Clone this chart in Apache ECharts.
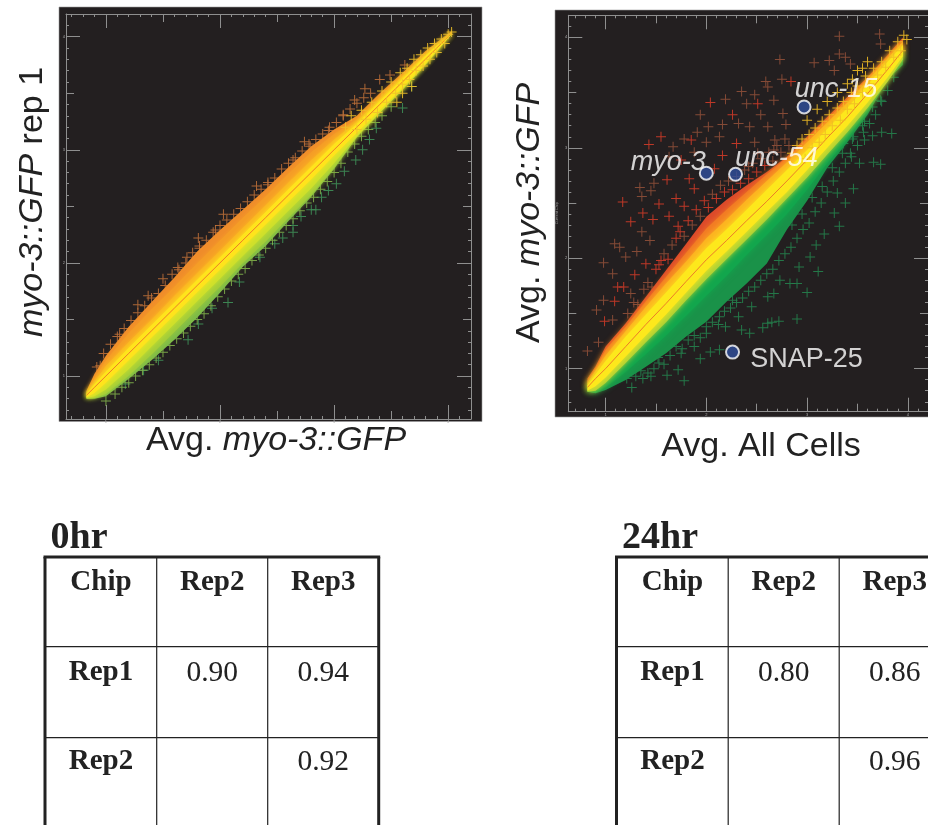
<!DOCTYPE html>
<html><head><meta charset="utf-8">
<style>html,body{margin:0;padding:0;background:#fff}#c{width:928px;height:825px}</style>
<script src="https://cdn.jsdelivr.net/npm/echarts@6/dist/echarts.min.js"></script>
</head><body><div id="c"></div>
<script>
// ---------- tick values ----------
const minorTicks=[0.7,0.8,0.9,1.0,1.1,1.2,1.3,1.4,1.5,1.6,1.7,1.8,1.9,2.0,2.1,2.2,2.3,2.4,2.5,2.6,2.7,2.8,2.9,3.0,3.1,3.2,3.3,3.4,3.5,3.6,3.7,3.8,3.9,4.0,4.1];
const halfTicks=[1.5,2.5,3.5];
const majorTicks=[1,2,3,4];

// ---------- left panel: band envelopes (y value at each bx1) ----------
const bx1=[0.83,0.9,1.0,1.2,1.4,1.6,1.8,2.0,2.2,2.4,2.6,2.8,3.0,3.2,3.4,3.6,3.8,4.03];
const c1 =[0.83,0.9,1.0,1.2,1.4,1.6,1.8,2.0,2.2,2.4,2.6,2.8,3.0,3.2,3.4,3.6,3.8,4.03];
const u1_0=[0.87,1.02,1.18,1.435,1.655,1.87,2.10,2.29,2.47,2.65,2.845,3.03,3.18,3.30,3.50,3.68,3.87,4.05];
const u1_1=[0.86,0.98,1.14,1.38,1.59,1.79,2.0,2.2,2.4,2.59,2.79,2.98,3.14,3.27,3.47,3.66,3.85,4.04];
const u1_2=[0.85,0.95,1.09,1.3,1.5,1.71,1.91,2.11,2.31,2.51,2.71,2.91,3.09,3.25,3.45,3.65,3.84,4.04];
const u1_3=[0.84,0.93,1.04,1.25,1.45,1.65,1.85,2.05,2.25,2.45,2.65,2.85,3.05,3.23,3.43,3.63,3.83,4.035];
const l1_3=[0.81,0.85,0.94,1.14,1.34,1.54,1.74,1.94,2.14,2.34,2.54,2.74,2.95,3.15,3.35,3.55,3.76,4.025];
const l1_2=[0.805,0.82,0.88,1.06,1.26,1.46,1.66,1.86,2.06,2.26,2.46,2.66,2.88,3.12,3.33,3.54,3.755,4.02];
const l1_1=[0.80,0.805,0.84,1.0,1.19,1.39,1.59,1.79,2.0,2.19,2.40,2.6,2.84,3.115,3.33,3.535,3.752,4.02];
const l1_0=[0.80,0.80,0.82,0.975,1.14,1.32,1.515,1.735,1.965,2.15,2.37,2.585,2.83,3.11,3.325,3.53,3.75,4.02];

// ---------- left panel: crosses ----------
const p1Orange=[[3.62,3.75],[3.49,3.66],[3.40,3.62],[3.27,3.54],[3.18,3.44],[3.08,3.31],[2.95,3.17],[2.74,3.07],[2.79,3.03],[2.64,2.91],[2.42,2.69],[2.32,2.68],[2.03,2.43],[1.96,2.29],[1.81,2.22],[1.82,2.13],[1.71,2.05],[1.63,1.96],[1.50,1.86],[1.37,1.71],[1.28,1.63],[1.12,1.37],[0.95,1.09],
[0.92,1.08],[0.98,1.2],[1.04,1.28],[1.1,1.35],[1.16,1.42],[1.22,1.49],[1.28,1.56],[1.34,1.62],[1.4,1.69],[1.46,1.73],[1.52,1.8],[1.58,1.9],[1.64,1.94],[1.7,2.0],[1.76,2.09],[1.82,2.15],[1.88,2.2],[1.94,2.27],[2.0,2.33],[2.06,2.38],[2.12,2.43],[2.18,2.48],[2.24,2.54],[2.3,2.6],[2.36,2.65],[2.42,2.71],[2.48,2.75],[2.54,2.83],[2.6,2.88],[2.66,2.93],[2.72,2.99],[2.78,3.05],[2.84,3.09],[2.9,3.14],[2.96,3.2],[3.02,3.24],[3.08,3.3],[3.14,3.36],[3.2,3.41],[3.26,3.46],[3.32,3.5]];
const p1Green=[[3.60,3.37],[3.68,3.56],[3.37,3.19],[3.31,3.09],[3.25,3.0],[3.19,2.91],[3.09,2.81],[3.02,2.70],[2.95,2.64],[2.89,2.58],[2.80,2.47],[2.84,2.47],[2.71,2.41],[2.64,2.33],[2.64,2.27],[2.55,2.22],[2.48,2.17],[2.35,2.05],[2.17,1.83],[2.07,1.65],[1.93,1.60],[1.81,1.46],[1.72,1.32],[1.46,1.14],[1.33,1.05],[1.17,0.93]];
const p1LightGreen=[[1.0,0.78],[1.08,0.84],[1.14,0.9],[1.2,0.94],[1.26,1.0],[1.32,1.05],[1.38,1.1],[1.44,1.16],[1.5,1.21],[1.56,1.27],[1.62,1.33],[1.68,1.38],[1.74,1.44],[1.8,1.5],[1.86,1.55],[1.92,1.62],[1.98,1.7],[2.04,1.77],[2.1,1.84],[2.16,1.9],[2.22,1.95],[2.28,2.02],[2.34,2.07],[2.4,2.13],[2.46,2.2],[2.52,2.27],[2.58,2.33],[2.64,2.39],[2.7,2.46],[2.76,2.53],[2.82,2.58],[2.88,2.65],[2.94,2.72],[3.0,2.8],[3.06,2.88],[3.12,2.98],[3.18,3.05],[3.24,3.12],[3.3,3.18],[3.36,3.24],[3.42,3.3],[3.5,3.38]];
const p1Yellow=[[3.1,3.2],[3.15,3.3],[3.2,3.18],[3.24,3.35],[3.28,3.27],[3.33,3.42],[3.38,3.33],[3.42,3.52],[3.46,3.42],[3.5,3.6],[3.54,3.5],[3.58,3.68],[3.6,3.58],[3.64,3.72],[3.66,3.62],[3.7,3.8],[3.72,3.7],[3.76,3.84],[3.78,3.74],[3.82,3.9],[3.84,3.8],[3.88,3.94],[3.9,3.86],[3.94,3.98],[3.97,3.94],[4.0,4.02],[4.03,4.04],[3.55,3.42],[3.6,3.5],[3.68,3.56]];

// ---------- right panel: band envelopes (y value at each bx2) ----------
const bx2=[0.82,0.9,1.0,1.2,1.4,1.6,1.8,2.0,2.2,2.4,2.6,2.8,3.0,3.2,3.4,3.6,3.8,3.95];
const c2 =[0.83,0.91,1.0,1.2,1.4,1.59,1.79,1.986,2.16,2.34,2.515,2.70,2.89,3.09,3.28,3.49,3.71,3.88];
const u2_3=[0.85,0.95,1.07,1.29,1.49,1.69,1.89,2.09,2.26,2.44,2.62,2.80,2.98,3.17,3.36,3.57,3.78,3.93];
const u2_2=[0.87,0.98,1.12,1.34,1.56,1.77,1.97,2.18,2.35,2.53,2.70,2.87,3.05,3.23,3.41,3.61,3.81,3.96];
const u2_1=[0.89,1.0,1.17,1.38,1.61,1.83,2.05,2.27,2.44,2.60,2.76,2.91,3.08,3.26,3.44,3.63,3.83,3.98];
const u2_0=[0.91,1.02,1.20,1.41,1.65,1.89,2.13,2.375,2.53,2.66,2.78,2.92,3.10,3.28,3.46,3.64,3.84,4.0];
const l2_3=[0.80,0.84,0.92,1.11,1.30,1.49,1.69,1.886,2.06,2.24,2.42,2.60,2.80,3.00,3.20,3.41,3.64,3.83];
const l2_2=[0.79,0.80,0.87,1.05,1.24,1.42,1.62,1.81,1.99,2.17,2.35,2.54,2.73,2.94,3.14,3.36,3.60,3.80];
const l2_1=[0.79,0.785,0.83,0.97,1.13,1.30,1.48,1.66,1.84,2.03,2.21,2.40,2.62,2.86,3.08,3.33,3.63,3.78];
const l2_0=[0.79,0.777,0.807,0.897,1.018,1.139,1.29,1.425,1.606,1.772,1.953,2.26,2.52,2.82,3.05,3.30,3.62,3.75];

// ---------- right panel: crosses ----------
const p2RedBright=[[2.84,3.60],[2.51,3.40],[2.26,3.30],[2.04,3.41],[1.43,3.03],[1.55,3.10],[1.85,3.07],[2.16,2.93],[2.30,3.04],[1.75,2.89],[2.08,2.81],[1.61,2.71],[1.83,2.72],[1.88,2.63],[1.70,2.54],[1.53,2.49],[1.17,2.51],[1.37,2.41],[1.63,2.38],[1.78,2.47],[1.25,2.33],[1.47,2.35],[1.72,2.29],[1.53,1.94],[1.40,1.95],[1.29,1.85],[1.12,1.74],[1.18,1.74],[1.09,1.61],[0.99,1.43],
[1.5,1.9],[1.55,1.98],[1.62,1.99],[1.7,2.18],[1.74,2.24],[1.82,2.34],[1.9,2.44],[1.98,2.52],[2.02,2.46],[2.1,2.54],[2.18,2.6],[2.26,2.62],[2.34,2.68],[2.42,2.72],[2.5,2.78],[2.58,2.84]];
const p2RedDull=[[3.32,4.01],[3.72,4.03],[3.73,3.94],[2.73,3.80],[3.07,3.77],[3.22,3.79],[3.32,3.85],[3.38,3.82],[3.27,3.70],[3.43,3.76],[2.59,3.60],[2.75,3.62],[2.35,3.51],[2.48,3.48],[2.61,3.55],[2.19,3.44],[2.40,3.40],[2.67,3.43],[1.94,3.30],[2.54,3.30],[2.76,3.31],[1.91,3.14],[2.02,3.19],[2.16,3.21],[2.32,3.22],[2.43,3.19],[2.61,3.19],[2.79,3.21],[1.78,3.08],[2.00,3.05],[2.13,3.10],[2.48,3.05],[2.68,3.07],[1.67,3.01],[1.88,2.96],[2.51,2.95],[2.67,2.98],[1.63,2.92],[2.42,2.83],[1.48,2.68],[1.34,2.64],[1.45,2.61],[1.36,2.56],[1.36,2.24],[1.44,2.16],[1.09,2.13],[1.14,2.10],[1.31,2.06],[1.20,2.01],[0.98,1.96],[1.07,1.86],[1.25,1.68],[0.98,1.62],[0.91,1.53],[1.07,1.44],[0.93,1.24],[0.82,1.16],
[1.22,1.5],[1.28,1.6],[1.32,1.58],[1.38,1.72],[1.42,1.78],[1.46,1.74],[1.58,2.04],[1.66,2.12],[1.78,2.2],[1.86,2.3],[1.94,2.38],[2.06,2.58],[2.14,2.66],[2.22,2.7],[2.3,2.74],[2.38,2.8],[2.46,2.86],[2.54,2.9],[2.62,2.96],[2.66,2.88],[2.7,3.02],[2.74,2.96],[2.78,3.08],[2.82,3.02]];
const p2Amber=[[2.85,2.95],[2.9,3.02],[2.95,3.08],[2.98,2.9],[3.02,3.12],[3.05,3.0],[3.08,3.18],[3.12,3.05],[3.15,3.24],[3.18,3.12],[3.22,3.3],[3.25,3.2],[3.3,3.36],[3.33,3.25],[3.36,3.42],[3.4,3.35],[3.44,3.5],[3.47,3.4],[3.5,3.56],[3.55,3.5],[3.58,3.65],[3.62,3.58],[3.66,3.72],[3.7,3.66],[3.74,3.78],[3.78,3.73],[3.82,3.88],[3.86,3.82],[3.9,3.96],[3.93,3.88],[3.96,4.02],[3.99,3.98],[3.45,3.62],[3.5,3.7],[3.55,3.72],[3.6,3.78],[3.4,3.58],[3.3,3.5],[3.2,3.42],[3.1,3.35],[3.0,3.25]];
const p2Green=[[3.84,3.13],[3.74,3.14],[3.65,3.11],[3.73,3.43],[3.65,3.37],[3.57,3.24],[3.46,3.10],[3.36,3.04],[3.57,3.07],[3.43,2.95],[3.66,2.87],[3.73,2.85],[3.52,2.86],[3.46,2.63],[3.30,2.59],[3.38,2.50],[3.27,2.41],[3.32,2.29],[3.17,2.22],[3.09,2.12],[3.03,2.01],[3.11,1.88],[2.92,1.92],[2.83,1.77],[3.0,1.69],[2.90,1.77],[2.67,1.68],[2.73,1.80],[2.90,1.45],[2.72,1.43],[2.65,1.42],[2.61,1.41],[2.56,1.37],[2.43,1.32],[2.35,1.35],[2.19,1.38],[2.13,1.17],[2.04,1.15],[1.94,1.09],[1.78,0.89],[1.72,0.99],[1.61,0.94],[1.53,1.05],[1.45,0.93],[1.37,0.91],[1.26,0.83],[1.21,0.91],[1.88,1.20],[2.0,1.32],[1.75,1.14],[2.61,1.65],[2.45,1.56],[2.32,1.47],[2.13,1.47],[2.26,1.62],
[1.3,0.93],[1.35,0.98],[1.42,0.96],[1.48,1.0],[1.52,1.1],[1.58,1.04],[1.64,1.12],[1.7,1.2],[1.76,1.18],[1.82,1.26],[1.88,1.3],[1.94,1.28],[2.0,1.38],[2.06,1.42],[2.12,1.4],[2.18,1.52],[2.24,1.55],[2.3,1.6],[2.36,1.64],[2.42,1.7],[2.48,1.74],[2.54,1.8],[2.6,1.86],[2.66,1.9],[2.72,1.98],[2.78,2.04],[2.84,2.1],[2.9,2.18],[2.96,2.26],[3.02,2.32],[3.08,2.42],[3.14,2.5],[3.2,2.6],[3.26,2.7],[3.32,2.78],[3.38,2.86],[3.44,2.92],[3.5,3.02],[3.56,3.14],[3.62,3.22],[3.68,3.3],[3.74,3.42],[3.8,3.52],[3.86,3.64],[2.95,2.4],[3.05,2.55],[3.15,2.65],[3.25,2.82],[3.35,2.95],[3.45,3.08],[3.55,3.2],[2.85,2.3]];

// ---------- highlighted genes ----------
const geneNames=['myo-3','unc-54','unc-15','SNAP-25'];
const geneX=[2.0,2.29,2.97,2.26];
const geneY=[2.77,2.76,3.37,1.15];

// ---------- tables ----------
const tableHead=['Chip','Rep2','Rep3'];
const table0Title='0hr', table24Title='24hr';
const table0=[['Rep1','0.90','0.94'],['Rep2','','0.92']];
const table24=[['Rep1','0.80','0.86'],['Rep2','','0.96']];

// ---------- presentation ----------
const DARK='#231f20', TICK='#8f8f8f';
const CROSS='path://M4.5 0h1v4.5h4.5v1h-4.5v4.5h-1v-4.5h-4.5v-1h4.5z';
const SANS='"Liberation Sans",Arial,sans-serif', SERIF='"Liberation Serif","Times New Roman",serif';
const labelOffsets={'myo-3':[-38,-11],'unc-54':[41,-16],'unc-15':[32,-17],'SNAP-25':[74,7]};

const panels=[
 {rect:{left:66,top:14,width:405,height:405},x:[0.65,4.2],y:[0.62,4.2],bx:bx1,c:c1,
  zones:[[u1_0,c1,'#ef8c2b',0],[l1_0,c1,'#7dbb48',0],[u1_1,c1,'#f59d27',5],[l1_1,c1,'#a3cd3a',5],[u1_2,c1,'#fbb722',5],[l1_2,c1,'#cfe02c',5],[u1_3,l1_3,'#ffe41c',5]]},
 {rect:{left:568.3,top:15.3,width:376.6,height:396.4},x:[0.63,4.2],y:[0.61,4.2],bx:bx2,c:c2,
  zones:[[u2_0,c2,'#dc4a2b',0],[l2_0,c2,'#1a9249',0],[u2_1,c2,'#f27b24',6],[l2_1,c2,'#12a64d',6],[u2_2,c2,'#fcb321',6],[l2_2,c2,'#aed136',6],[u2_3,l2_3,'#fde81c',6]]}
];

const grids=[],xAxes=[],yAxes=[],series=[];
const tiers=[{v:minorTicks,len:3,line:true},{v:halfTicks,len:8},{v:majorTicks,len:14,label:true}];
panels.forEach((p,pi)=>{
  p.gridIndex=grids.length;
  tiers.forEach((t,ti)=>{
    const g=grids.length; grids.push(p.rect);
    const ax=(dim,pos,range)=>({type:'value',gridIndex:g,position:pos,min:range[0],max:range[1],scale:true,
      splitLine:{show:false},
      axisLine:{show:!!t.line,onZero:false,lineStyle:{color:TICK,width:1}},
      axisTick:{show:true,inside:true,length:t.len,customValues:t.v,lineStyle:{color:TICK,width:1}},
      axisLabel:(t.label&&(pos==='bottom'||pos==='left'))?{show:true,customValues:t.v,fontSize:4,margin:1,color:'#aaa',fontFamily:SANS,formatter:v=>String(v)}:{show:false}});
    xAxes.push(ax('x','bottom',p.x),ax('x','top',p.x));
    yAxes.push(ax('y','left',p.y),ax('y','right',p.y));
  });
  const xi=p.gridIndex*2, yi=p.gridIndex*2;
  p.xi=xi;p.yi=yi;
});

const crossSeries=(p,name,data,color,opacity,z)=>({type:'scatter',name,xAxisIndex:p.xi,yAxisIndex:p.yi,data,symbol:CROSS,symbolSize:10,
  itemStyle:{color,opacity},silent:true,z,clip:false});

panels.forEach((p,pi)=>{
  if(pi===0){
    series.push(crossSeries(p,'p1 orange',p1Orange,'#c4733a',.85,1));
    series.push(crossSeries(p,'p1 green',p1Green,'#3f8f58',.9,1));
    series.push(crossSeries(p,'p1 light green',p1LightGreen,'#86b84e',.85,1));
  } else {
    series.push(crossSeries(p,'p2 red dull',p2RedDull,'#8f4f38',.9,1));
    series.push(crossSeries(p,'p2 red bright',p2RedBright,'#cf3b28',.9,1));
    series.push(crossSeries(p,'p2 green',p2Green,'#25814c',.9,1));
  }
  series.push({type:'custom',name:'band '+pi,xAxisIndex:p.xi,yAxisIndex:p.yi,coordinateSystem:'cartesian2d',clip:false,silent:true,z:2,
    data:p.zones.map((_,i)=>[i,i]),encode:{x:0,y:1},
    renderItem:(params,api)=>{
      const [up,lo,color,blur]=p.zones[api.value(0)];
      const pts=[];
      p.bx.forEach((x,i)=>pts.push(api.coord([x,lo[i]])));
      for(let i=p.bx.length-1;i>=0;i--)pts.push(api.coord([p.bx[i],up[i]]));
      return {type:'polygon',shape:{points:pts},style:{fill:color,shadowBlur:blur,shadowColor:color}};
    }});
  series.push({type:'line',name:'diagonal '+pi,xAxisIndex:p.xi,yAxisIndex:p.yi,data:p.bx.map((x,i)=>[x,p.c[i]]),showSymbol:false,silent:true,z:3,
    lineStyle:{color:'#e8602a',width:1,opacity:.8}});
  if(pi===0) series.push(crossSeries(p,'p1 yellow',p1Yellow,'#efc12a',.9,4));
  else series.push(crossSeries(p,'p2 amber',p2Amber,'#f0bb25',.9,4));
});
series.push({type:'scatter',name:'genes',xAxisIndex:panels[1].xi,yAxisIndex:panels[1].yi,z:6,silent:true,
  data:geneNames.map((n,i)=>({name:n,value:[geneX[i],geneY[i]],label:{offset:labelOffsets[n],fontStyle:n==='SNAP-25'?'normal':'italic'}})),
  symbol:'circle',symbolSize:13,itemStyle:{color:'#2f4f9e',borderColor:'#fff',borderWidth:2},
  label:{show:true,position:'inside',formatter:'{b}',color:'#fff',fontSize:27,fontFamily:SANS}});

// ---------- static graphics ----------
const g=[];
g.push({type:'rect',z:-5,shape:{x:59,y:7,width:423,height:414.5},style:{fill:DARK,stroke:'#9a9a9a',lineWidth:.6}});
g.push({type:'rect',z:-5,shape:{x:555,y:10,width:420,height:407},style:{fill:DARK,stroke:'#9a9a9a',lineWidth:.6}});
const title=(x,y,rot,text,rich)=>g.push({type:'text',x,y,rotation:rot,z:10,style:{text,rich,align:'center',verticalAlign:'middle',fill:'#222',font:'34px '+SANS}});
const titleRich={r:{fontSize:34,fontFamily:SANS,fill:'#222',color:'#222'},i:{fontSize:34,fontFamily:SANS,fontStyle:'italic',fill:'#222',color:'#222'}};
title(276,441,0,'{r|Avg. }{i|myo-3::GFP}',titleRich);
title(33,202,Math.PI/2,'{i|myo-3::GFP}{r| rep 1}',titleRich);
title(761,447,0,'{r|Avg. All Cells}',titleRich);
title(530,213,Math.PI/2,'{r|Avg. }{i|myo-3::GFP}',titleRich);
g.push({type:'text',x:557,y:213,rotation:Math.PI/2,style:{text:'Current Chip',align:'center',verticalAlign:'middle',fill:'#999',font:'4px '+SANS}});

function drawTable(left,titleText,titleX,rows){
  const colW=[111.7,111,111], rowY=[646.7,737.7], top=557;
  const colX=[left,left+colW[0],left+colW[0]+colW[1],left+colW[0]+colW[1]+colW[2]];
  const line=(x1,y1,x2,y2,w)=>g.push({type:'line',shape:{x1,y1,x2,y2},style:{stroke:'#222',lineWidth:w}});
  line(colX[0],top-1.5,colX[3]+1.5,top-1.5+0,0); 
  line(colX[0]-1.5,top,colX[3]+1.5,top,3);
  line(colX[0],top,colX[0],825,3);
  line(colX[3],top,colX[3],825,3);
  line(colX[1],top,colX[1],825,1.2);
  line(colX[2],top,colX[2],825,1.2);
  rowY.forEach(y=>line(colX[0],y,colX[3],y,1.2));
  const tx=(x,y,s,bold,size)=>g.push({type:'text',x,y,style:{text:s,align:'center',verticalAlign:'middle',fill:'#222',font:(bold?'bold ':'')+size+'px '+SERIF}});
  tx(titleX,538,titleText,true,38);
  const cx=[colX[0]+56,colX[1]+55.5,colX[2]+55.5];
  tableHead.forEach((s,i)=>tx(cx[i],583,s,true,29));
  rows.forEach((r,ri)=>r.forEach((s,ci)=>{ if(s) tx(cx[ci],[673,762][ri],s,ci===0,ci===0?29:29.5); }));
}
drawTable(45,table0Title,79,table0);
drawTable(616.5,table24Title,660,table24);

const chart=echarts.init(document.getElementById('c'),null,{renderer:'canvas'});
chart.setOption({animation:false,backgroundColor:'#fff',grid:grids,xAxis:xAxes,yAxis:yAxes,series,tooltip:{show:false},graphic:{elements:g}});
</script></body></html>
